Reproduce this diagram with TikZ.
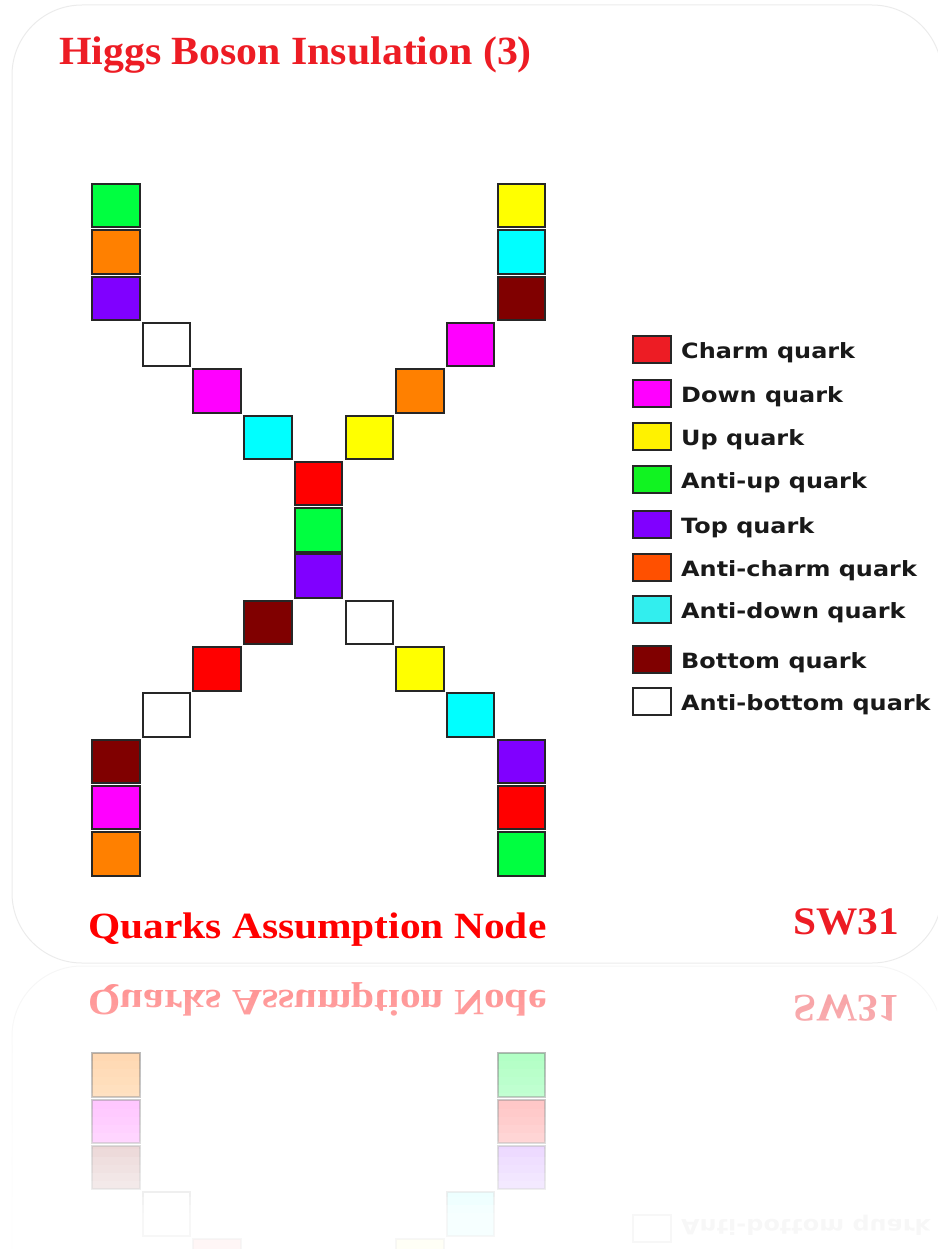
\documentclass[tikz,border=0pt]{standalone}
\usepackage{fontspec}
\setmainfont{Liberation Serif}
\newfontfamily\keyfont{DejaVu Sans}
\usepackage{graphicx}
\usetikzlibrary{positioning}

\definecolor{titlered}{RGB}{237, 28, 36}
\definecolor{qred}{RGB}{255, 0, 0}
\definecolor{qgreen}{RGB}{0, 255, 64}
\definecolor{qorange}{RGB}{255, 128, 0}
\definecolor{qpurple}{RGB}{128, 0, 255}
\definecolor{qmagenta}{RGB}{255, 0, 255}
\definecolor{qcyan}{RGB}{0, 255, 255}
\definecolor{qyellow}{RGB}{255, 255, 0}
\definecolor{qmaroon}{RGB}{128, 0, 0}
\definecolor{lcharm}{RGB}{237, 28, 36}
\definecolor{lup}{RGB}{255, 242, 0}
\definecolor{lantiup}{RGB}{17, 243, 33}
\definecolor{lanticharm}{RGB}{255, 80, 0}
\definecolor{lantidown}{RGB}{50, 238, 238}

\tikzset{
  cell/.style={draw=black!85, line width=2pt, inner sep=0pt,
    minimum width=47.5pt, minimum height=43.5pt},
  keybox/.style={draw=black!85, line width=2pt, inner sep=0pt,
    minimum width=38pt, minimum height=27pt},
  keytext/.style={inner sep=0pt, text height=18pt, text depth=0pt, text=black!90,
    font=\keyfont\bfseries\fontsize{21}{21}\selectfont},
  headline/.style={inner sep=0pt, font=\bfseries\fontsize{40}{40}\selectfont},
  cardline/.style={draw=black!8, line width=1pt, rounded corners=70pt}
}

\newcommand{\keylabel}[1]{\scalebox{1.14}[1]{#1}}

% card and cross of quarks
\newcommand{\quarkcross}{%
  \draw[cardline] (12,5) rectangle (942,963);
  \foreach \row/\clm/\tone in {0/0/qgreen, 1/0/qorange, 2/0/qpurple, 3/1/white,
      4/2/qmagenta, 5/3/qcyan, 6/4/qred, 7/4/qgreen, 8/4/qpurple, 9/3/qmaroon,
      10/2/qred, 11/1/white, 12/0/qmaroon, 13/0/qmagenta, 14/0/qorange,
      0/8/qyellow, 1/8/qcyan, 2/8/qmaroon, 3/7/qmagenta, 4/6/qorange, 5/5/qyellow,
      9/5/white, 10/6/qyellow, 11/7/qcyan, 12/8/qpurple, 13/8/qred, 14/8/qgreen} {
    \node[cell, fill=\tone] (sq-\row-\clm) at ({115.75+50.7*\clm}, {205.75+46.3*\row}) {};
  }
}

% legend rows: index/y/colour/text
\newcommand{\quarkkey}[1]{%
  \foreach \i/\y/\tone/\txt in {#1} {
    \node[keybox, fill=\tone] (key\i) at (652,\y) {};
    \node[keytext, right=9pt of key\i] (label\i) {\keylabel{\txt}};
  }
}

% footer texts
\newcommand{\quarkfooter}{%
  \node[headline, font=\bfseries\fontsize{37}{37}\selectfont, text=qred,
        anchor=base west] (caption) at (88,938.5)
    {\scalebox{1.12}[1]{Quarks Assumption Node}};
  \node[headline, font=\bfseries\fontsize{39}{39}\selectfont, text=titlered,
        anchor=base east] (code) at (899,934)
    {\scalebox{1.06}[1]{SW31}};
}

\begin{document}
\begin{tikzpicture}[x=1pt, y=-1pt]
  \useasboundingbox (0,0) rectangle (937,1249);
  % Title
  \node[headline, text=titlered, anchor=base west] (title) at (59,65)
    {\scalebox{1.045}[1]{Higgs Boson Insulation (3)}};
  \quarkcross
  % Legend
  \quarkkey{1/349/lcharm/Charm quark, 2/393/qmagenta/Down quark,
      3/436/lup/Up quark, 4/479/lantiup/Anti-up quark, 5/524/qpurple/Top quark,
      6/567/lanticharm/Anti-charm quark, 7/609/lantidown/Anti-down quark,
      8/659/qmaroon/Bottom quark, 9/701/white/Anti-bottom quark}
  \quarkfooter
  % Reflection
  \begin{scope}
    \clip (0,965) rectangle (937,1249);
    \begin{scope}[name prefix=mirror-, shift={(0,1929)}, yscale=-1,
                  transform shape, opacity=0.45]
      \quarkcross
      \quarkkey{9/701/white/Anti-bottom quark}
      \quarkfooter
    \end{scope}
  \end{scope}
  % Fade to white
  \foreach \k [evaluate=\k as \fo using {min(0.93,max(0,(8*\k-1)/265))}] in {0,...,36} {
    \fill[white, opacity=\fo] (0,{965+8*\k}) rectangle (937,{973+8*\k});
  }
\end{tikzpicture}
\end{document}
